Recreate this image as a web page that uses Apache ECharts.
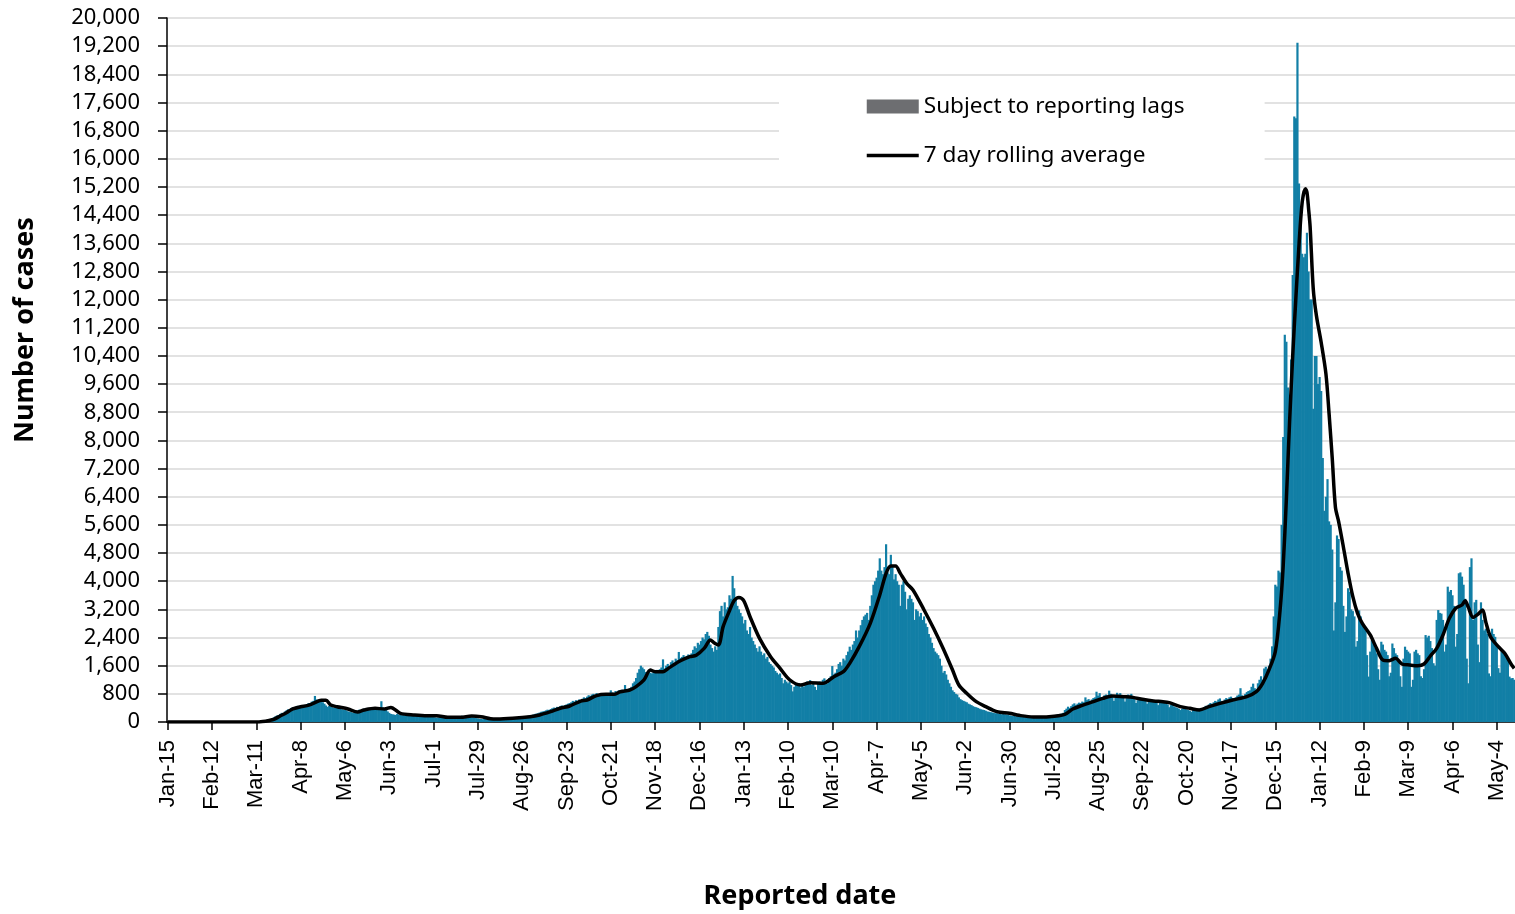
<!DOCTYPE html>
<html><head><meta charset="utf-8">
<script src="https://cdn.jsdelivr.net/npm/echarts@6/dist/echarts.min.js"></script>
<style>html,body{margin:0;padding:0;background:#fff}#c{width:1515px;height:914px}</style>
</head><body><div id="c"></div>
<script>
// first reported date and number of days shown
const startYear = 2020, startMonth = 0, startDay = 15;
const dayCount = 852;
const monthNames = ['Jan','Feb','Mar','Apr','May','Jun','Jul','Aug','Sep','Oct','Nov','Dec'];

// daily reported cases, Jan 15 2020 - Jan 12 2021
const dailyCasesPart1 = [
0,0,0,0,0,0,0, 0,0,0,1,0,0,0, 0,0,0,0,0,0,0, 0,0,0,0,0,0,0,
0,0,0,0,0,0,0, 0,0,0,0,0,0,0, 1,0,0,1,0,1,2, 2,3,4,6,8,9,12,
15,18,22,30,36,45,52, 65,75,90,110,135,160,185, 200,230,260,250,300,330,360, 340,400,420,390,440,460,420,
460,470,450,490,510,540,520, 580,600,740,640,620,600,650, 560,520,470,430,460,440,420, 400,440,410,380,390,360,350,
340,330,300,290,280,260,300, 290,320,350,340,370,380,360, 400,390,370,380,360,350,380, 400,420,590,410,390,360,300,
260,230,220,210,200,230,210, 200,190,210,190,180,200,210, 190,180,170,190,200,180,170, 190,180,170,180,160,150,140,
140,130,120,130,140,120,130, 140,120,130,140,130,150,140, 130,150,160,170,180,160,170, 180,160,150,140,130,120,110,
100,90,85,80,90,85,80, 75,90,85,80,95,90,100, 95,90,100,110,105,100,110, 120,115,110,125,130,140,135,
145,150,160,170,180,175,200, 210,230,240,250,270,290,300, 310,330,350,340,370,390,410, 400,430,420,450,470,440,480,
500,520,540,560,600,580,620, 600,640,620,660,700,680,720, 760,740,780,800,760,820,780, 800,760,790,770,800,780,810,
900,840,820,880,850,900,870, 920,890,1050,900,930,960,1000, 1100,1150,1250,1400,1500,1600,1550, 1500,1420,1380,1450,1400,1380,1450,
1420,1480,1400,1500,1550,1780,1520, 1600,1650,1580,1700,1750,1680,1800, 1760,1990,1820,1850,1900,1780,1880, 1920,1860,1950,2050,2150,2100,2250,
2200,2300,2400,2350,2500,2560,2450, 2200,2100,2000,2150,2050,2700,3150, 3300,3000,3400,3200,3260,3600,3500, 4150,3800,3500,3300,3200,3100,3000
];
// daily reported cases, Jan 13 2021 - Dec 14 2021
const dailyCasesPart2 = [
2800,2900,2600,2500,2700,2400,2300, 2200,2100,2000,2150,2000,1900,1950, 1800,1850,1700,1650,1600,1550,1450, 1400,1350,1380,1250,1100,1200,1150,
1100,1150,1050,870,1000,1080,1050, 1100,980,1050,1000,1100,1150,1120, 1190,1050,1100,1000,910,1100,1150, 1080,1200,1240,1150,1100,1250,1300,
1590,1350,1400,1500,1650,1700,1600, 1800,1750,1900,2000,2140,2050,2200, 2300,2600,2400,2600,2750,2900,3000, 3050,3100,2900,3300,3600,3900,4000,
4100,4300,4650,4300,4200,4400,5050, 4250,4200,4750,4400,4050,4200,4000, 3900,3300,3900,4000,3700,3200,3500, 3600,3500,3400,2900,3200,3150,3000,
3100,2900,3000,2800,2700,2500,2400, 2250,2100,2000,1950,1900,1800,1600, 1400,1450,1350,1200,1100,1000,900, 850,800,780,700,650,620,600,
580,560,520,500,480,450,430, 420,400,380,360,350,340,320, 300,290,280,270,260,250,250, 240,230,220,230,220,210,200,
190,180,175,170,160,165,150, 145,140,150,135,140,130,135, 140,130,140,150,145,140,150, 155,150,160,165,170,175,180,
190,200,210,220,230,240,260, 340,380,435,400,450,500,530, 480,520,550,540,580,560,700, 620,650,600,640,680,700,860,
750,820,700,650,760,780,720, 890,800,760,600,700,830,780, 820,740,700,580,680,780,720, 800,700,650,540,620,700,650,
680,620,640,520,600,650,600, 620,560,580,480,560,600,580, 560,520,500,420,480,500,440, 420,400,380,340,380,400,370,
360,340,320,290,340,350,330, 360,380,400,360,420,460,440, 500,540,500,560,600,580,640, 670,600,560,640,680,650,700,
720,680,640,700,750,780,960, 760,720,800,850,880,900,1000, 1090,960,900,1100,1200,1300,1200, 1520,1570,1500,1600,1800,2150,3000
];
// daily reported cases, Dec 15 2021 - May 15 2022
const dailyCasesPart3 = [
3900,3850,4300,4250,5600,8100,11000, 10800,9500,9300,10300,12700,17200,17150, 19300,15300,14300,13300,13200,13300,13900, 12800,12000,12000,8900,10400,10400,9600,
9800,9400,7500,6000,6400,6900,5700, 5600,4900,2600,3400,5300,5200,4400, 4300,3300,2560,3000,3800,3700,3200, 3150,3000,2140,2300,3170,3000,2800,
2700,2600,1900,1290,2000,2330,2200, 2100,1950,1500,1200,2280,2200,2050, 2000,1900,1300,1400,2230,2100,1950, 1900,1700,1300,1000,1800,2140,2050,
2000,1950,1000,1200,2000,2050,1950, 1900,1300,1250,1500,2470,2400,2450, 2300,2100,1670,1600,2900,3180,3100, 3080,2900,2000,2200,3845,3700,3750,
3600,3300,2140,2500,4225,4250,4130, 3900,3500,1800,1100,4400,4650,2900, 3400,3470,2200,1700,3400,2900,2600, 2650,2500,1380,1300,2650,2500,2420,
2200,1530,1400,2040,2000,1950,1900, 1800,1290,1240,1250,1200
];
// days subject to reporting lags (none visible)
const lagCases = [];

// 7 day rolling average, read at these day offsets from Jan 15 2020
const rollingAvgDay = [0,56,60,64,67,71,75,79,84,88,92,97,100,103,107,114,120,124,131,137,141,147,156,164,170,177,185,192,198,204,208,218,229,235,242,248,254,261,265,271,277,282,286,292,296,301,305,308,313,317,324,330,334,339,343,345,348,351,355,358,361,364,368,374,381,387,393,400,406,414,421,427,431,437,444,450,454,457,460,463,467,471,478,484,490,496,500,505,511,517,524,532,538,547,557,567,572,578,585,591,597,604,610,616,623,629,633,640,646,652,658,665,673,682,688,692,696,700,703,705,707,709,711,713,715,717,719,720,721,722,724,726,729,732,734,736,738,740,743,746,749,752,755,760,764,768,772,776,780,785,790,794,798,802,806,810,814,818,820,822,825,828,831,833,836,841,845,849,851];
const rollingAvgValue = [0,0,15,45,75,170,265,370,435,465,530,615,615,480,435,370,285,340,390,370,415,245,200,180,180,133,133,170,150,95,85,105,150,200,295,390,455,595,625,750,785,785,860,910,1005,1195,1475,1430,1430,1545,1740,1855,1895,2090,2330,2260,2190,2710,3160,3450,3540,3450,2990,2375,1855,1525,1200,1050,1117,1100,1288,1430,1667,2140,2803,3608,4223,4430,4430,4223,3939,3750,3182,2661,2093,1477,1051,814,578,436,294,246,189,142,152,218,369,473,578,672,738,720,700,644,597,578,549,436,388,341,436,530,625,720,862,1100,1480,2000,3170,4440,6340,8500,10400,12050,13570,14770,15150,15050,14600,14075,12300,11540,10780,9890,8750,7480,6100,5700,4980,4224,3560,3087,2803,2472,2093,1761,1742,1810,1648,1619,1600,1648,1875,2093,2472,2945,3230,3324,3446,3258,2974,3059,3182,2850,2424,2140,1951,1648,1525];

// y axis ticks
const yMin = 0, yMax = 20000, yStep = 800;
const tickEvery = 28;

const categories = [];
for (let i = 0; i < dayCount; i++) {
  const d = new Date(Date.UTC(startYear, startMonth, startDay + i));
  categories.push(monthNames[d.getUTCMonth()] + '-' + d.getUTCDate());
}
const dailyCases = dailyCasesPart1.concat(dailyCasesPart2, dailyCasesPart3);
const avgData = rollingAvgDay.map((d, i) => [d, rollingAvgValue[i]]);

const chart = echarts.init(document.getElementById('c'), null, {renderer: 'canvas'});
chart.setOption({
  animation: false,
  backgroundColor: '#fff',
  grid: {left: 167, right: 0, top: 18, bottom: 192, containLabel: false},
  legend: {
    left: 779, top: 85, orient: 'vertical',
    itemWidth: 52, itemHeight: 14, itemGap: 26,
    padding: [10, 80, 10, 86], backgroundColor: '#fff',
    selectedMode: false,
    textStyle: {fontFamily: 'Noto Sans', fontSize: 22.6, color: '#000'},
    data: [
      {name: 'Subject to reporting lags', icon: 'rect'},
      {name: '7 day rolling average', itemStyle: {color: 'rgba(0,0,0,0)', borderWidth: 0, opacity: 0},
       lineStyle: {color: '#000', width: 3.5}}
    ]
  },
  xAxis: {
    type: 'category', data: categories, boundaryGap: true,
    axisLine: {lineStyle: {color: '#000', width: 1.5}},
    axisTick: {show: true, interval: tickEvery - 1, alignWithLabel: true, length: 8, lineStyle: {color: '#000', width: 1.5}},
    axisLabel: {interval: tickEvery - 1, rotate: 90, margin: 18, fontFamily: 'Liberation Sans', fontSize: 22, color: '#000'},
    splitLine: {show: false}
  },
  yAxis: {
    type: 'value', min: yMin, max: yMax, interval: yStep,
    axisLine: {show: true, lineStyle: {color: '#000', width: 1.5}},
    axisTick: {show: true, length: 9, lineStyle: {color: '#000', width: 1.5}},
    axisLabel: {margin: 27, fontFamily: 'Noto Sans', fontSize: 22, color: '#000',
      formatter: v => v.toLocaleString('en-US')},
    splitLine: {show: true, lineStyle: {color: '#d9d9d9', width: 1.5}}
  },
  graphic: [
    {type: 'text', x: 25, y: 330, rotation: Math.PI / 2,
     style: {text: 'Number of cases', fontFamily: 'Noto Sans', fontWeight: 'bold', fontSize: 27, fill: '#000', align: 'center', verticalAlign: 'middle', textAlign: 'center', textVerticalAlign: 'middle'}},
    {type: 'text', x: 800, y: 896,
     style: {text: 'Reported date', fontFamily: 'Noto Sans', fontWeight: 'bold', fontSize: 27, fill: '#000', align: 'center', verticalAlign: 'middle', textAlign: 'center', textVerticalAlign: 'middle'}}
  ],
  series: [
    {name: 'Confirmed cases', type: 'bar', stack: 'cases', data: dailyCases,
     barWidth: 2.2, itemStyle: {color: '#127fa6'}, z: 2},
    {name: 'Subject to reporting lags', type: 'bar', stack: 'cases', data: lagCases,
     barWidth: 2.2, itemStyle: {color: '#6d6e71'}, z: 2},
    {name: '7 day rolling average', type: 'line', data: avgData, symbol: 'none', smooth: 0.3,
     lineStyle: {color: '#000', width: 3.5}, itemStyle: {color: '#000'}, z: 5}
  ]
});
</script>
</body></html>
